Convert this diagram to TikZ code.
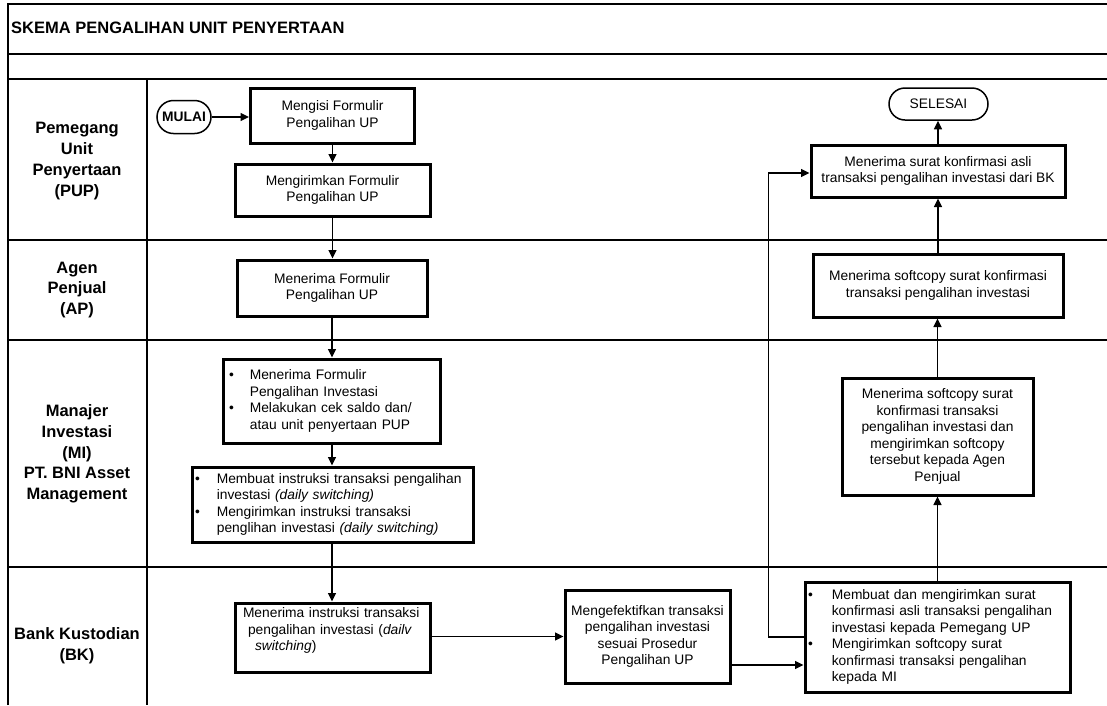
\documentclass[tikz,border=0pt]{standalone}
\usepackage{fontspec}
\setmainfont{Liberation Sans}
\usetikzlibrary{arrows.meta,shapes.misc}
\newcommand\bfs{\fontsize{13.8}{16.5}\selectfont}
\newcommand\lfs{\fontsize{16.5}{20.7}\selectfont\bfseries}
\tikzset{
  frameline/.style={line width=1.6pt},
  boxnode/.style={draw, line width=3pt, align=center, font=\bfs, inner sep=3pt},
  listnode/.style={draw, line width=3pt, align=left, font=\bfs, inner xsep=6pt, inner ysep=3pt},
  termnode/.style={draw, rounded rectangle, line width=1.5pt, font=\bfs, inner sep=2pt},
  lanelabel/.style={align=center, font=\lfs},
  arr/.style={line width=1.4pt, -{Triangle[length=8.5pt,width=8pt]}},
}
\begin{document}
\begin{tikzpicture}[x=1pt,y=-1pt]
\useasboundingbox (0,0) rectangle (1107,705);
% frame
\draw[line width=2.2pt] (8,705) -- (8,4) -- (1107,4);
\foreach \yy in {54,79,240,340,567} \draw[frameline] (8,\yy) -- (1107,\yy);
\draw[frameline] (147,79) -- (147,705);
% title and lane labels
\node[anchor=west, font=\lfs, inner sep=0pt] (title) at (11,28) {SKEMA PENGALIHAN UNIT PENYERTAAN};
\node[lanelabel] (lpup) at (77,161) {Pemegang\\Unit\\Penyertaan\\(PUP)};
\node[lanelabel] (lap) at (77,290) {Agen\\Penjual\\(AP)};
\node[lanelabel] (lmi) at (77,454) {Manajer\\Investasi\\(MI)\\PT. BNI Asset\\Management};
\node[lanelabel] (lbk) at (77,646) {Bank Kustodian\\(BK)};
% left column
\node[termnode, minimum width=58pt, minimum height=33pt, font=\bfs\bfseries] (mulai) at (184,117) {MULAI};
\node[boxnode, minimum width=164pt, minimum height=55pt] (b1) at (332.5,115.5) {Mengisi Formulir\\Pengalihan UP};
\node[boxnode, minimum width=195pt, minimum height=52pt] (b2) at (332.5,190) {Mengirimkan Formulir\\Pengalihan UP};
\node[boxnode, minimum width=190pt, minimum height=56pt] (b3) at (332,288) {Menerima Formulir\\Pengalihan UP};
\node[listnode, text width=205pt, minimum height=84pt] (b4) at (331.5,401) {\noindent\begin{tabular}{@{}l@{\hspace{16pt}}l@{}}
\textbullet & Menerima Formulir\\
 & Pengalihan Investasi\\
\textbullet & Melakukan cek saldo dan/\\
 & atau unit penyertaan PUP
\end{tabular}};
\node[listnode, inner xsep=3pt, text width=275pt, minimum height=75pt] (b5) at (332.5,504.5) {\noindent\begin{tabular}{@{}l@{\hspace{17pt}}l@{}}
\textbullet & Membuat instruksi transaksi pengalihan\\
 & investasi \textit{(daily switching)}\\
\textbullet & Mengirimkan instruksi transaksi\\
 & penglihan investasi \textit{(daily switching)}
\end{tabular}};
\node[listnode, inner xsep=8pt, text width=179pt, minimum height=69pt] (b6) at (332.5,637.5) {Menerima instruksi transaksi\\\hspace*{5pt}pengalihan investasi (\textit{dailv}\\\hspace*{12pt}\textit{switching})\\\mbox{}};
\node[boxnode, minimum width=165pt, minimum height=93pt] (b7) at (647.5,636.5) {Mengefektifkan transaksi\\pengalihan investasi\\sesuai Prosedur\\Pengalihan UP};
% right column
\node[listnode, inner xsep=3pt, text width=259pt, minimum height=110pt] (b8) at (937.5,637) {\noindent\begin{tabular}{@{}l@{\hspace{19pt}}l@{}}
\textbullet & Membuat dan mengirimkan surat\\
 & konfirmasi asli transaksi pengalihan\\
 & investasi kepada Pemegang UP\\
\textbullet & Mengirimkan softcopy surat\\
 & konfirmasi transaksi pengalihan\\
 & kepada MI
\end{tabular}};
\node[boxnode, minimum width=191pt, minimum height=117pt] (b9) at (937.5,436.5) {Menerima softcopy surat\\konfirmasi transaksi\\pengalihan investasi dan\\mengirimkan softcopy\\tersebut kepada Agen\\Penjual};
\node[boxnode, minimum width=250pt, minimum height=63pt] (b10) at (938,285.5) {Menerima softcopy surat konfirmasi\\transaksi pengalihan investasi};
\node[boxnode, minimum width=254pt, minimum height=52pt] (b11) at (938,171) {Menerima surat konfirmasi asli\\transaksi pengalihan investasi dari BK};
\node[termnode, minimum width=103pt, minimum height=32pt] (selesai) at (938.5,104) {SELESAI};
% connectors
\draw[arr] (mulai.east) -- (mulai.east -| b1.west);
\draw[arr] (b1.south) -- (b1.south |- b2.north);
\draw[arr] (b2.south) -- (b2.south |- b3.north);
\draw[arr] (b3.south) -- (b3.south |- b4.north);
\draw[arr] (b3.south |- b4.south) -- (b3.south |- b5.north);
\draw[arr] (b3.south |- b5.south) -- (b3.south |- b6.north);
\draw[arr] (b6.east |- b7.west) -- (b7.west);
\draw[arr] ([yshift=-28.5pt]b7.east) -- ([yshift=-28.5pt]b7.east -| b8.west);
\draw[arr] (b8.west) -- ++(-35,0) |- ([yshift=-2pt]b11.west);
\draw[arr] (b8.north) -- (b8.north |- b9.south);
\draw[arr] (b9.north) -- (b9.north |- b10.south);
\draw[arr] (b10.north) -- (b10.north |- b11.south);
\draw[arr] (b11.north) -- (b11.north |- selesai.south);
\end{tikzpicture}
\end{document}
